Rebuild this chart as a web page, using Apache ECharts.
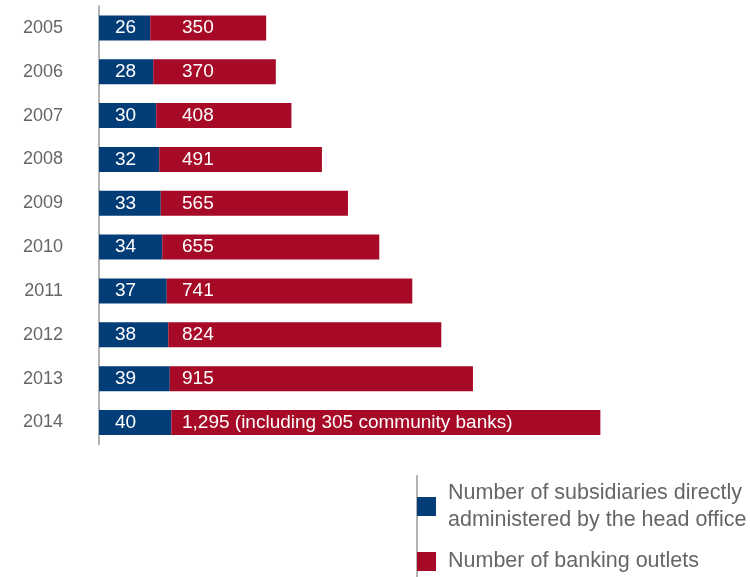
<!DOCTYPE html>
<html>
<head>
<meta charset="utf-8">
<style>
  html, body { margin: 0; padding: 0; background: #fff; }
  #chart { width: 750px; height: 577px; }
</style>
<script src="https://cdn.jsdelivr.net/npm/echarts@6/dist/echarts.min.js"></script>
</head>
<body>
<div id="chart"></div>
<script>
// ---- data ----
const years = ['2005', '2006', '2007', '2008', '2009', '2010', '2011', '2012', '2013', '2014'];
const subsidiaries = [26, 28, 30, 32, 33, 34, 37, 38, 39, 40];
const bankingOutlets = [350, 370, 408, 491, 565, 655, 741, 824, 915, 1295];
const communityBanks2014 = 305;
const seriesNames = ['Number of subsidiaries directly administered by the head office', 'Number of banking outlets'];
const legendLabels = ['Number of subsidiaries directly\nadministered by the head office', 'Number of banking outlets'];

// ---- styles ----
const BLUE = '#023d78';
const RED = '#a60a26';
const FONT = '"Liberation Sans", Arial, sans-serif';
const BAR_H = 25;
const BLUE_MIN = -8, BLUE_MAX = 322;

const chart = echarts.init(document.getElementById('chart'), null, { renderer: 'canvas' });

const blueData = subsidiaries.map((v, i) => [v, i]);
const redData = bankingOutlets.map((v, i) => [v, i, subsidiaries[i]]);

function redLabel(i) {
  const txt = bankingOutlets[i].toLocaleString('en-US');
  return years[i] === '2014' ? txt + ' (including ' + communityBanks2014 + ' community banks)' : txt;
}

const option = {
  animation: false,
  backgroundColor: '#fff',
  grid: { left: 99, top: 6, width: 497, height: 438.4, containLabel: false },
  xAxis: [
    { type: 'value', min: 0, max: 1500, show: false },
    { type: 'value', min: BLUE_MIN, max: BLUE_MAX, show: false }
  ],
  yAxis: {
    type: 'category',
    inverse: true,
    data: years,
    axisLine: { show: true, lineStyle: { color: '#9a9a9a', width: 1.5 } },
    axisTick: { show: false },
    splitLine: { show: false },
    axisLabel: { color: '#666', fontSize: 18, fontFamily: FONT, margin: 36 }
  },
  legend: {
    orient: 'vertical',
    left: 417,
    top: 479.5,
    padding: 0,
    itemGap: 14.5,
    itemWidth: 19,
    itemHeight: 19,
    icon: 'rect',
    selectedMode: false,
    data: seriesNames,
    formatter: name => legendLabels[seriesNames.indexOf(name)],
    textStyle: { color: '#666', fontSize: 21.5, fontFamily: FONT, lineHeight: 27, padding: [0, 0, 0, 7] }
  },
  graphic: [{
    type: 'line', z: -1,
    shape: { x1: 417, y1: 475, x2: 417, y2: 577 },
    style: { stroke: '#9a9a9a', lineWidth: 1.5 }
  }],
  series: [
    {
      name: seriesNames[0],
      type: 'custom',
      xAxisIndex: 1,
      yAxisIndex: 0,
      itemStyle: { color: BLUE },
      encode: { x: 0, y: 1 },
      data: blueData,
      renderItem: function (params, api) {
        const c = api.value(1);
        const start = api.coord([BLUE_MIN, c]);
        const end = api.coord([api.value(0), c]);
        return {
          type: 'group',
          children: [
            { type: 'rect', shape: { x: start[0], y: end[1] - BAR_H / 2, width: end[0] - start[0], height: BAR_H }, style: { fill: BLUE } },
            { type: 'text', style: { text: String(api.value(0)), x: start[0] + 16, y: end[1], verticalAlign: 'middle', align: 'left', fill: '#fff', font: '19px ' + FONT } }
          ]
        };
      }
    },
    {
      name: seriesNames[1],
      type: 'custom',
      xAxisIndex: 0,
      yAxisIndex: 0,
      itemStyle: { color: RED },
      encode: { x: 0, y: 1 },
      data: redData,
      renderItem: function (params, api) {
        const c = api.value(1);
        const zero = api.coord([0, c]);
        const full = api.coord([api.value(0), c]);
        const len = full[0] - zero[0];
        const blueEnd = chart.convertToPixel({ xAxisIndex: 1 }, api.value(2));
        return {
          type: 'group',
          children: [
            { type: 'rect', shape: { x: blueEnd, y: zero[1] - BAR_H / 2, width: len, height: BAR_H }, style: { fill: RED } },
            { type: 'text', style: { text: redLabel(params.dataIndex), x: zero[0] + 83, y: zero[1], verticalAlign: 'middle', align: 'left', fill: '#fff', font: '19px ' + FONT } }
          ]
        };
      }
    }
  ]
};

chart.setOption(option);
</script>
</body>
</html>
